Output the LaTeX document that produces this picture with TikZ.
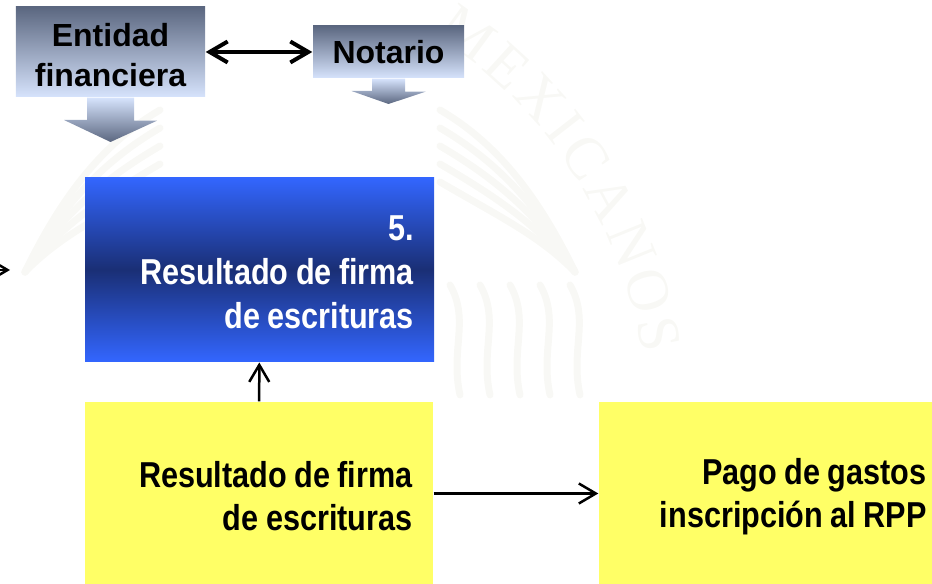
\documentclass[tikz,border=0pt]{standalone}
\usepackage{fontspec}
\usepackage{tikz}
\usetikzlibrary{arrows.meta,decorations.text}
\setmainfont{Liberation Sans}
\newfontfamily\narrowfont[FakeStretch=0.85]{Liberation Sans}
\newfontfamily\sealfont{Liberation Serif}
\newcommand{\droptext}[1]{\rule{0pt}{\dimexpr #1+0.72em\relax}\\[-\baselineskip]}
\newcommand{\tightwords}{\spaceskip=2.1pt\relax}
\definecolor{greydark}{HTML}{5B6780}
\definecolor{greylight}{HTML}{D6E3FC}
\definecolor{blueedge}{HTML}{3366FF}
\definecolor{bluedark}{HTML}{1A2F75}
\definecolor{boxyellow}{HTML}{FFFF66}
\definecolor{sealgrey}{HTML}{F8F8F5}
\tikzset{
    greybox/.style={shape=rectangle, top color=greydark, bottom color=greylight, align=center, inner sep=0pt, font=\fontsize{9.1}{11.4}\selectfont\bfseries},
    bluebox/.style={shape=rectangle, top color=blueedge, bottom color=blueedge, middle color=bluedark, text=white, minimum width=3.49cm, minimum height=1.845cm, text width=3.09cm, align=right, inner sep=0pt, font=\fontsize{10.25}{12.6}\selectfont\narrowfont\bfseries},
    yellowbox/.style={shape=rectangle, fill=boxyellow, minimum width=3.48cm, minimum height=1.83cm, text width=3.07cm, align=right, inner sep=0pt, font=\fontsize{10.25}{12.3}\selectfont\narrowfont\bfseries},
    downarrow/.style={top color=greylight, bottom color=greydark},
    sealline/.style={draw=sealgrey, line width=0.07cm, line cap=round},
    thinarrow/.style={-{Straight Barb[length=1.7mm,width=2mm]}, line width=0.025cm},
    thickarrow/.style={{Straight Barb[length=1.8mm,width=2.1mm]}-{Straight Barb[length=1.8mm,width=2.1mm]}, line width=0.04cm}
}
\begin{document}
\begin{tikzpicture}
    \clip (0,0) rectangle (9.32,-5.84);
    % seal behind the boxes
    \path[decorate, decoration={text along path, text align={fit to path}, text={|\fontsize{17}{17}\selectfont\sealfont\color{sealgrey}|MEXICANOS}}] (1.78,-4.28) ++(57:4.70) arc[start angle=57, end angle=9, radius=4.70];
    \foreach \d in {0,0.18,0.36,0.54,0.72} {
        \draw[sealline] (4.40,-1.10-\d) .. controls (5.0,-1.45-\d) and (5.4,-2.0-0.5*\d) .. (5.75,-2.72);
        \draw[sealline] (1.60,-1.10-\d) .. controls (1.0,-1.45-\d) and (0.6,-2.0-0.5*\d) .. (0.25,-2.72);
    }
    \foreach \x in {4.50,4.80,5.10,5.40,5.70} {
        \draw[sealline] (\x,-2.85) .. controls (\x+0.2,-3.2) and (\x,-3.5) .. (\x+0.1,-3.95);
    }
    \node[greybox, minimum width=1.89cm, minimum height=0.90cm, text width=1.89cm] at (1.105,-0.52) (ENT) {\droptext{0.06cm}Entidad\\financiera};
    \node[greybox, minimum width=1.51cm, minimum height=0.52cm] at (3.885,-0.52) (NOT) {Notario};
    \node[bluebox] at (2.595,-2.695) (RES) {\tightwords\droptext{0.04cm}5.\\Resultado de firma\\de escrituras};
    \node[yellowbox] at (2.59,-4.935) (FIR) {\tightwords\droptext{0.06cm}Resultado de firma\\de escrituras};
    \node[yellowbox] at (7.73,-4.935) (PAG) {\tightwords\droptext{0.06cm}Pago de gastos\\inscripción al RPP};
    \coordinate (OFF) at (-0.3,-2.70);
    \coordinate (TIP) at (0.10,-2.70);
    \shade[downarrow] (ENT.south) ++(-0.235,0) -- ++(0.47,0) -- ++(0,-0.23) -- ++(0.23,0) -- (1.105,-1.42) -- (0.64,-1.20) -- (0.87,-1.20) -- cycle;
    \shade[downarrow] (NOT.south) ++(-0.165,0) -- ++(0.33,0) -- ++(0,-0.13) -- ++(0.205,0) -- (3.885,-1.04) -- (3.515,-0.91) -- (3.72,-0.91) -- cycle;
    \path [thickarrow] (ENT) edge (NOT);
    \path [thinarrow] (FIR) edge (RES);
    \path [thinarrow] (FIR) edge (PAG);
    \path [thinarrow] (OFF) edge (TIP);
\end{tikzpicture}
\end{document}
